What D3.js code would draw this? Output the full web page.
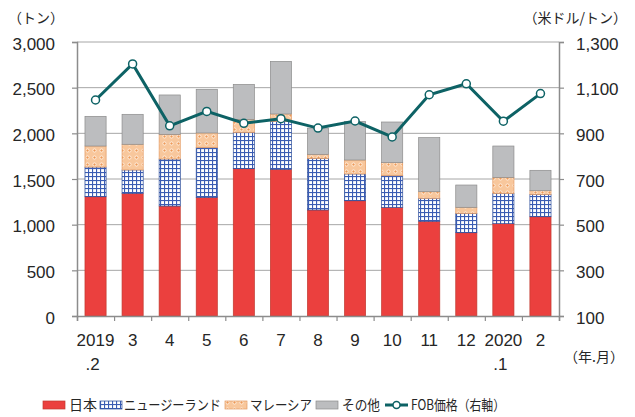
<!DOCTYPE html>
<html><head><meta charset="utf-8">
<script src="https://cdn.jsdelivr.net/npm/d3@7"></script>
<style>
html,body{margin:0;padding:0;background:#fff;}
svg{display:block;font-family:"Liberation Sans","Noto Sans CJK JP",sans-serif;}
</style></head><body>
<svg id="c" width="635" height="417"></svg>
<script>
const months = ["2019\n.2","3","4","5","6","7","8","9","10","11","12","2020\n.1","2"];
const japan =     [1306,1343,1204,1299,1613,1606,1161,1262,1190,1037, 912,1011,1087];
const nz =        [ 325, 256, 515, 544, 398, 525, 565, 293, 346, 252, 212, 332, 245];
const malaysia =  [ 230, 281, 270, 161, 142,  81,  44, 153, 143,  72,  66, 175,  40];
const other =     [ 325, 328, 431, 478, 383, 576, 288, 420, 445, 592, 244, 343, 223];
const fob =       [1046,1204, 933, 996, 944, 964, 923, 954, 884,1069,1117, 953,1074];
const leftTicks = [0,500,1000,1500,2000,2500,3000];
const rightTicks = [100,300,500,700,900,1100,1300];
const seriesNames = ["日本","ニュージーランド","マレーシア","その他"];
const lineName = "FOB価格（右軸）";

const svg = d3.select("#c");
const L = 77, R = 559, T = 42, B = 316;
const textColor = "#262626";

const defs = svg.append("defs");
const pNZ = defs.append("pattern").attr("id","pNZ").attr("patternUnits","userSpaceOnUse").attr("width",4).attr("height",4);
pNZ.append("rect").attr("width",4).attr("height",4).attr("fill","#ffffff");
pNZ.append("rect").attr("x",0).attr("y",0).attr("width",4).attr("height",1.1).attr("fill","#3a5cb3");
pNZ.append("rect").attr("x",0).attr("y",0).attr("width",1.1).attr("height",4).attr("fill","#3a5cb3");
const pMY = defs.append("pattern").attr("id","pMY").attr("patternUnits","userSpaceOnUse").attr("width",7).attr("height",7);
pMY.append("rect").attr("width",7).attr("height",7).attr("fill","#f8c79c");
pMY.append("circle").attr("cx",3.5).attr("cy",3.5).attr("r",1.6).attr("fill","#ee9a58").attr("stroke","#fff3e6").attr("stroke-width",0.9);

const fills = ["#eb403e","url(#pNZ)","url(#pMY)","#bcbdbf"];
const strokes = ["#c0392f","#2d4e9a","#e39a62","#8c8c8c"];

const x = d3.scaleBand().domain(d3.range(months.length)).range([L,R]).paddingInner(0.43).paddingOuter(0.215);
const y = d3.scaleLinear().domain([0,3000]).range([B,T]);
const y2 = d3.scaleLinear().domain([100,1300]).range([B,T]);

// gridlines
svg.append("g").selectAll("line").data(leftTicks.slice(1)).join("line")
  .attr("x1",L).attr("x2",R).attr("y1",d=>y(d)).attr("y2",d=>y(d))
  .attr("stroke","#a6a6a6").attr("stroke-width",1);

// stacked bars
const table = months.map((m,i)=>({i, s0:japan[i], s1:nz[i], s2:malaysia[i], s3:other[i]}));
const stack = d3.stack().keys(["s0","s1","s2","s3"])(table);
svg.append("g").selectAll("g").data(stack).join("g")
  .attr("fill",(d,k)=>fills[k]).attr("stroke",(d,k)=>strokes[k]).attr("stroke-width",0.7)
  .selectAll("rect").data(d=>d).join("rect")
  .attr("x",d=>x(d.data.i)).attr("width",x.bandwidth())
  .attr("y",d=>y(d[1])).attr("height",d=>y(d[0])-y(d[1]));

// axes
const axL = svg.append("g").attr("transform",`translate(${L},0)`)
  .call(d3.axisLeft(y).tickValues(leftTicks).tickFormat(d3.format(",")).tickSize(5).tickPadding(17));
const axR = svg.append("g").attr("transform",`translate(${R},0)`)
  .call(d3.axisRight(y2).tickValues(rightTicks).tickFormat(d3.format(",")).tickSize(5).tickPadding(12));
const xb = d3.scaleLinear().domain([0,months.length]).range([L,R]);
const axB = svg.append("g").attr("transform",`translate(0,${B})`)
  .call(d3.axisBottom(xb).tickValues(d3.range(months.length+1)).tickFormat("").tickSize(5));
[axL,axR,axB].forEach(a=>{
  a.selectAll("path.domain").attr("stroke","#8c8c8c").attr("stroke-width",1.5);
  a.selectAll(".tick line").attr("stroke","#8c8c8c").attr("stroke-width",1.2);
  a.selectAll("text").attr("font-size",17).attr("fill",textColor).attr("dy","0.42em")
   .attr("font-family","Liberation Sans, sans-serif");
});

// x labels
const xl = svg.append("g").attr("font-size",17).attr("fill",textColor).attr("text-anchor","middle");
months.forEach((m,i)=>{
  const parts = m.split("\n");
  const cx = x(i)+x.bandwidth()/2;
  xl.append("text").attr("x",cx).attr("y",345.5).text(parts[0]);
  if(parts[1]) xl.append("text").attr("x",cx-3).attr("y",369.5).text(parts[1]);
});

// line
const line = d3.line().x((d,i)=>x(i)+x.bandwidth()/2).y(d=>y2(d));
svg.append("path").datum(fob).attr("d",line).attr("fill","none").attr("stroke","#0d6265").attr("stroke-width",3);
svg.append("g").selectAll("circle").data(fob).join("circle")
  .attr("cx",(d,i)=>x(i)+x.bandwidth()/2).attr("cy",d=>y2(d)).attr("r",4)
  .attr("fill","#fff").attr("stroke","#0d6265").attr("stroke-width",1.5);

// unit labels
svg.append("text").attr("x",8).attr("y",23).attr("font-size",14).attr("fill",textColor)
  .attr("font-family","Noto Sans CJK JP").text("（トン）");
svg.append("text").attr("x",627).attr("y",23).attr("font-size",14).attr("fill",textColor).attr("text-anchor","end")
  .attr("font-family","Noto Sans CJK JP").text("（米ドル/トン）");
svg.append("text").attr("x",624).attr("y",362).attr("font-size",14).attr("fill",textColor).attr("text-anchor","end")
  .attr("font-family","Noto Sans CJK JP").text("（年.月）");

// legend
const lg = svg.append("g").attr("font-size",14).attr("fill",textColor).attr("font-family","Noto Sans CJK JP");
const legX = [43,100,225,316];
const legTX = [69,124,250,342];
const legTW = [28,97,62,38];
seriesNames.forEach((n,k)=>{
  lg.append("rect").attr("x",legX[k]).attr("y",401).attr("width",22).attr("height",8)
    .attr("fill",fills[k]).attr("stroke",strokes[k]).attr("stroke-width",0.7);
  lg.append("text").attr("x",legTX[k]).attr("y",410).attr("textLength",legTW[k]).attr("lengthAdjust","spacingAndGlyphs").text(n);
});
lg.append("line").attr("x1",385).attr("x2",408).attr("y1",405).attr("y2",405).attr("stroke","#0d6265").attr("stroke-width",3);
lg.append("circle").attr("cx",396.5).attr("cy",405).attr("r",3.5).attr("fill","#fff").attr("stroke","#0d6265").attr("stroke-width",1.5);
lg.append("text").attr("x",411).attr("y",410).attr("textLength",94).attr("lengthAdjust","spacingAndGlyphs").text(lineName);
</script></body></html>
